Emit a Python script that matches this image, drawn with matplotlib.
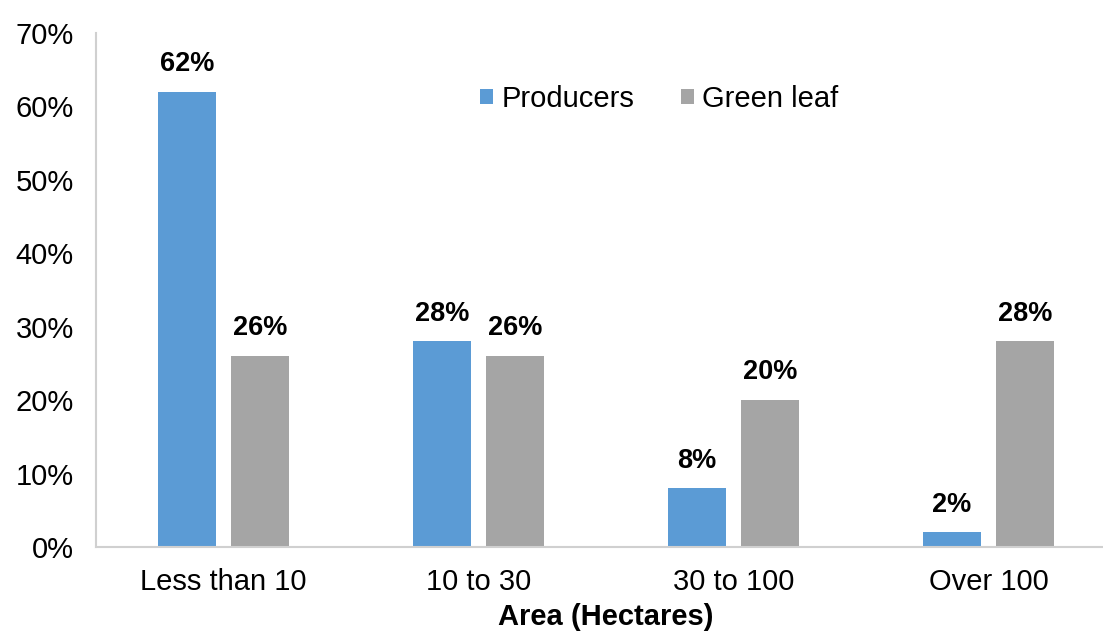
import numpy as np
import matplotlib.pyplot as plt

plt.rcParams["font.family"] = ["Liberation Sans", "DejaVu Sans"]

categories = ["Less than 10", "10 to 30", "30 to 100", "Over 100"]
producers = [62, 28, 8, 2]
green_leaf = [26, 26, 20, 28]

blue = "#5B9BD5"
grey = "#A5A5A5"

fig = plt.figure(figsize=(11.03, 6.37), dpi=100)
ax = fig.add_axes([96 / 1103, 90 / 637, 1020 / 1103, 514 / 637])

x = np.arange(len(categories))
w = 0.224
off = 0.143
b1 = ax.bar(x - off, producers, w, color=blue, label="Producers")
b2 = ax.bar(x + off, green_leaf, w, color=grey, label="Green leaf")

for bars, vals in [(b1, producers), (b2, green_leaf)]:
    for b, v in zip(bars, vals):
        ax.text(b.get_x() + b.get_width() / 2, v + 2.0, f"{v}%", ha="center",
                va="bottom", fontsize=19.5, fontweight="bold")

ax.set_xlim(-0.5, 3.5)
ax.set_ylim(0, 70)
ax.set_yticks(range(0, 71, 10))
ax.set_yticklabels([f"{v}%" for v in range(0, 71, 10)], fontsize=21)
ax.set_xticks(x)
ax.set_xticklabels(categories, fontsize=21)
ax.tick_params(length=0)
ax.tick_params(axis="x", pad=15)
ax.tick_params(axis="y", pad=16)

for s in ["top", "right"]:
    ax.spines[s].set_visible(False)
for s in ["left", "bottom"]:
    ax.spines[s].set_color("#D0D0D0")
    ax.spines[s].set_linewidth(1.5)

ax.set_xlabel("Area (Hectares)", fontsize=21, fontweight="bold", labelpad=5)

ax.legend(loc="center", bbox_to_anchor=(0.552, 0.872), ncol=2, frameon=False,
          fontsize=21, handlelength=0.45, handleheight=0.45, handletextpad=0.28,
          columnspacing=1.6, borderpad=0)

fig.savefig("out.png", dpi=100)
